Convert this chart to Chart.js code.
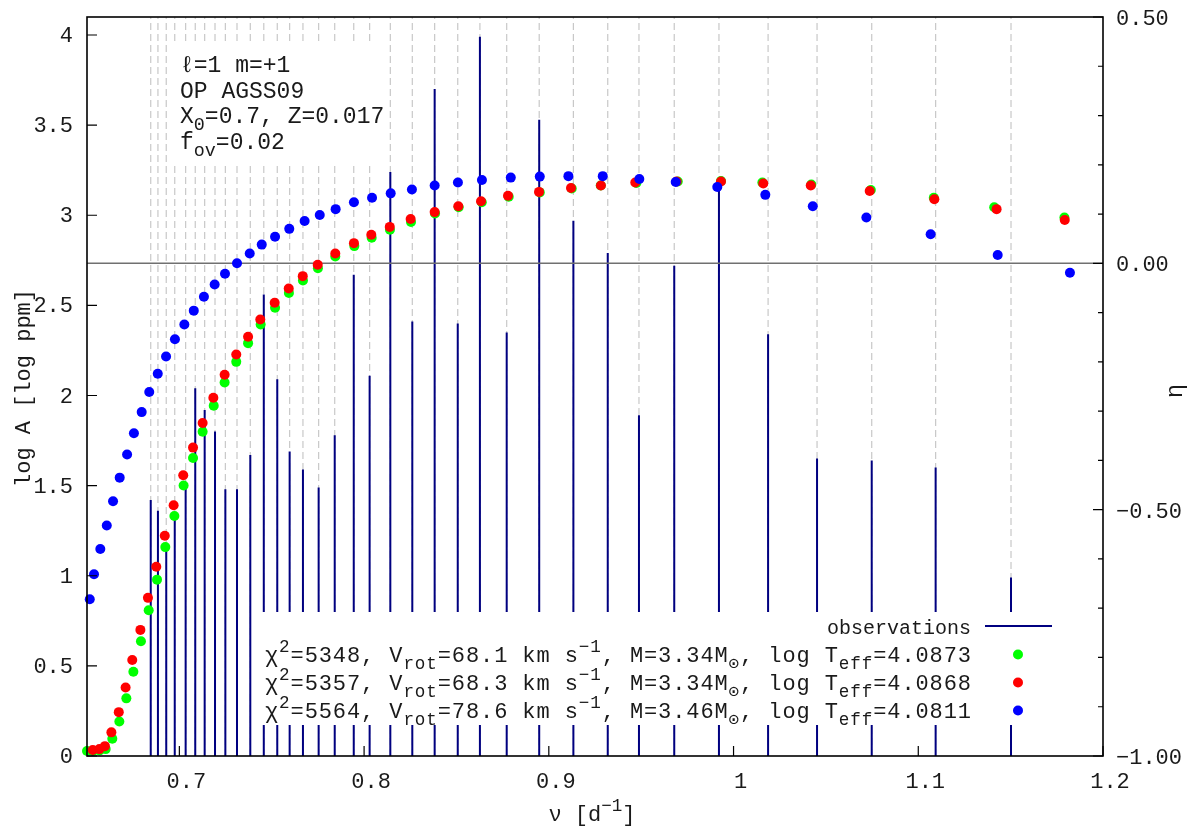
<!DOCTYPE html>
<html>
<head>
<meta charset="utf-8">
<script src="https://cdn.jsdelivr.net/npm/chart.js@4.4.1/dist/chart.umd.min.js"></script>
<style>
  html, body { margin: 0; padding: 0; background: #fff; }
  #wrap { width: 1196px; height: 828px; }
</style>
</head>
<body>
<div id="wrap"><canvas id="chart"></canvas></div>
<script>
// observed frequencies [d^-1] and amplitudes [log ppm]
const obsFreq = [0.6845, 0.6884, 0.6929, 0.6975, 0.7034, 0.7086, 0.7137, 0.7193, 0.7249, 0.7312,
  0.7384, 0.7457, 0.7530, 0.7597, 0.7669, 0.7754, 0.7841, 0.7944, 0.8030, 0.8142,
  0.8261, 0.8382, 0.8507, 0.8627, 0.8772, 0.8948, 0.9133, 0.9319, 0.9488, 0.9679,
  0.9921, 1.0187, 1.0452, 1.0748, 1.1094, 1.1502];
const obsLogA = [1.42, 1.36, 1.15, 1.32, 1.49, 2.04, 1.92, 1.80, 1.48, 1.48,
  1.67, 2.56, 2.09, 1.69, 1.59, 1.49, 1.78, 2.67, 2.11, 3.24,
  2.41, 3.70, 2.40, 3.99, 2.35, 3.53, 2.97, 2.79, 1.89, 2.72,
  3.16, 2.34, 1.65, 1.64, 1.60, 0.99];

// model 1 (green): chi2=5348
const greenFreq = [0.6500, 0.6532, 0.6568, 0.6601, 0.6637, 0.6675, 0.6713, 0.6751, 0.6792, 0.6834,
  0.6879, 0.6924, 0.6973, 0.7023, 0.7074, 0.7126, 0.7186, 0.7245, 0.7308, 0.7372,
  0.7440, 0.7518, 0.7593, 0.7669, 0.7750, 0.7844, 0.7947, 0.8041, 0.8140, 0.8254,
  0.8384, 0.8512, 0.8637, 0.8783, 0.8951, 0.9124, 0.9281, 0.9474, 0.9698, 0.9932,
  1.0156, 1.0421, 1.0743, 1.1084, 1.1411, 1.1791];
const greenEta = [-0.990, -0.990, -0.989, -0.986, -0.965, -0.930, -0.883, -0.829, -0.767, -0.704,
  -0.642, -0.576, -0.513, -0.451, -0.395, -0.342, -0.289, -0.242, -0.200, -0.162,
  -0.124, -0.090, -0.060, -0.035, -0.010, 0.014, 0.035, 0.052, 0.068, 0.084,
  0.101, 0.114, 0.124, 0.135, 0.144, 0.152, 0.158, 0.163, 0.166, 0.167,
  0.164, 0.160, 0.149, 0.133, 0.114, 0.093];

// model 2 (red): chi2=5357
const redFreq = [0.6531, 0.6567, 0.6597, 0.6632, 0.6672, 0.6709, 0.6745, 0.6789, 0.6830, 0.6875,
  0.6921, 0.6969, 0.7021, 0.7074, 0.7126, 0.7184, 0.7245, 0.7308, 0.7372, 0.7438,
  0.7516, 0.7592, 0.7668, 0.7749, 0.7844, 0.7945, 0.8039, 0.8139, 0.8252, 0.8382,
  0.8510, 0.8633, 0.8779, 0.8947, 0.9120, 0.9282, 0.9468, 0.9692, 0.9932, 1.0161,
  1.0418, 1.0737, 1.1087, 1.1424, 1.1793];
const redEta = [-0.988, -0.986, -0.980, -0.952, -0.911, -0.861, -0.805, -0.744, -0.679, -0.616,
  -0.553, -0.491, -0.430, -0.374, -0.324, -0.273, -0.226, -0.185, -0.149, -0.114,
  -0.080, -0.051, -0.026, -0.003, 0.020, 0.041, 0.058, 0.074, 0.090, 0.104,
  0.116, 0.126, 0.137, 0.145, 0.153, 0.158, 0.164, 0.166, 0.166, 0.162,
  0.158, 0.147, 0.130, 0.110, 0.088];

// model 3 (blue): chi2=5564
const blueFreq = [0.6515, 0.6538, 0.6572, 0.6607, 0.6641, 0.6677, 0.6717, 0.6754, 0.6796, 0.6837,
  0.6883, 0.6928, 0.6976, 0.7027, 0.7078, 0.7133, 0.7191, 0.7247, 0.7312, 0.7381,
  0.7446, 0.7518, 0.7595, 0.7678, 0.7760, 0.7846, 0.7945, 0.8043, 0.8144, 0.8259,
  0.8382, 0.8508, 0.8638, 0.8794, 0.8951, 0.9106, 0.9292, 0.9490, 0.9687, 0.9912,
  1.0172, 1.0429, 1.0719, 1.1067, 1.1430, 1.1821];
const blueEta = [-0.682, -0.631, -0.580, -0.532, -0.483, -0.435, -0.388, -0.345, -0.302, -0.261,
  -0.224, -0.189, -0.154, -0.124, -0.096, -0.068, -0.043, -0.021, 0.000, 0.020,
  0.038, 0.054, 0.070, 0.086, 0.098, 0.110, 0.124, 0.133, 0.142, 0.150,
  0.158, 0.164, 0.169, 0.174, 0.176, 0.177, 0.177, 0.171, 0.165, 0.155,
  0.139, 0.116, 0.093, 0.059, 0.017, -0.019];

const xTicks = [0.7, 0.8, 0.9, 1.0, 1.1, 1.2];
const xTickLabels = ["0.7", "0.8", "0.9", "1", "1.1", "1.2"];
const yTicks = [0, 0.5, 1, 1.5, 2, 2.5, 3, 3.5, 4];
const yTickLabels = ["0", "0.5", "1", "1.5", "2", "2.5", "3", "3.5", "4"];
const etaTicks = [-1, -0.5, 0, 0.5];
const etaTickLabels = ["\u22121.00", "\u22120.50", "0.00", "0.50"];
const etaMinorTicks = [-0.9, -0.8, -0.7, -0.6, -0.4, -0.3, -0.2, -0.1, 0.1, 0.2, 0.3, 0.4];

const FONT = '"Liberation Mono", "DejaVu Sans Mono", monospace';
const TEXT = "#1a1a1a";
const DOT = 5;

function toPoints(xs, ys) {
  return xs.map((v, i) => ({ x: v, y: ys[i] }));
}

function sticks(xs, tops) {
  const pts = [];
  xs.forEach((v, i) => {
    pts.push({ x: v, y: 0 }, { x: v, y: tops[i] }, { x: v, y: null });
  });
  return pts;
}

// draw text with sub/superscripts, char by char
function drawRich(ctx, parts, x, y, size, opts = {}) {
  const items = [];
  parts.forEach(([t, k]) => {
    const s = k ? size * 0.8 : size;
    const dy = k === "sub" ? size * 0.32 : k === "sup" ? -size * 0.46 : 0;
    for (const ch of t) items.push({ ch, s, dy });
  });
  ctx.textAlign = "left";
  ctx.textBaseline = "alphabetic";
  let natural = 0;
  items.forEach((it) => {
    ctx.font = it.s + "px " + FONT;
    it.w = ctx.measureText(it.ch).width;
    natural += it.w;
  });
  let sp = opts.spacing || 0;
  if (opts.fitWidth) sp = (opts.fitWidth - natural) / (items.length - 1);
  const total = natural + sp * (items.length - 1);
  let cx = opts.align === "right" ? x - total : opts.align === "center" ? x - total / 2 : x;
  items.forEach((it) => {
    ctx.font = it.s + "px " + FONT;
    ctx.fillText(it.ch, cx, y + it.dy);
    cx += it.w + sp;
  });
}

const gnuFrame = {
  id: "gnuFrame",
  afterDatasetsDraw(chart) {
    const { ctx, chartArea: a } = chart;
    const sx = chart.scales.x, sy = chart.scales.y, sy2 = chart.scales.y2;
    ctx.save();

    // key boxes (opaque)
    ctx.fillStyle = "#fff";
    ctx.fillRect(170, 44, 218, 120);
    ctx.fillRect(257, 612, 805, 113);

    // border
    ctx.strokeStyle = "#000";
    ctx.lineWidth = 1.6;
    ctx.strokeRect(a.left, a.top, a.right - a.left, a.bottom - a.top);

    // inward ticks
    ctx.lineWidth = 1.2;
    ctx.beginPath();
    yTicks.forEach((v) => {
      const p = sy.getPixelForValue(v);
      ctx.moveTo(a.left, p); ctx.lineTo(a.left + 10, p);
    });
    xTicks.forEach((v) => {
      const p = sx.getPixelForValue(v);
      ctx.moveTo(p, a.bottom); ctx.lineTo(p, a.bottom - 10);
    });
    etaTicks.forEach((v) => {
      const p = sy2.getPixelForValue(v);
      ctx.moveTo(a.right, p); ctx.lineTo(a.right - 10, p);
    });
    etaMinorTicks.forEach((v) => {
      const p = sy2.getPixelForValue(v);
      ctx.moveTo(a.right, p); ctx.lineTo(a.right - 5, p);
    });
    ctx.stroke();

    // tick labels
    ctx.fillStyle = TEXT;
    ctx.font = "22px " + FONT;
    ctx.textBaseline = "alphabetic";
    ctx.textAlign = "center";
    xTicks.forEach((v, i) => {
      ctx.fillText(xTickLabels[i], sx.getPixelForValue(v) + 7, 788);
    });
    ctx.textAlign = "right";
    yTicks.forEach((v, i) => {
      ctx.fillText(yTickLabels[i], 73, sy.getPixelForValue(v) + 7);
    });
    ctx.textAlign = "left";
    etaTicks.forEach((v, i) => {
      ctx.fillText(etaTickLabels[i], 1116, sy2.getPixelForValue(v) + 8);
    });

    // axis titles
    ctx.save();
    ctx.translate(24, 388);
    ctx.rotate(-Math.PI / 2);
    ctx.textAlign = "center";
    ctx.textBaseline = "middle";
    ctx.fillText("log A [log ppm]", 0, 0);
    ctx.restore();

    ctx.save();
    ctx.translate(1176, 391);
    ctx.rotate(-Math.PI / 2);
    ctx.textAlign = "center";
    ctx.textBaseline = "middle";
    ctx.font = "24px " + FONT;
    ctx.fillText("\u03b7", 0, 0);
    ctx.restore();

    drawRich(ctx, [["\u03bd [d", ""], ["\u22121", "sup"], ["]", ""]], 592, 821, 22, { align: "center" });

    // model description
    drawRich(ctx, [["\u2113=1 m=+1", ""]], 180, 72, 23);
    drawRich(ctx, [["OP AGSS09", ""]], 180, 98, 23);
    drawRich(ctx, [["X", ""], ["0", "sub"], ["=0.7, Z=0.017", ""]], 180, 123, 23);
    drawRich(ctx, [["f", ""], ["ov", "sub"], ["=0.02", ""]], 180, 149, 23);

    // key
    ctx.font = "20px " + FONT;
    ctx.textAlign = "right";
    ctx.fillText("observations", 971, 634);
    ctx.strokeStyle = "#000080";
    ctx.lineWidth = 2;
    ctx.beginPath();
    ctx.moveTo(985, 626); ctx.lineTo(1052, 626);
    ctx.stroke();

    const keyRows = [
      ["5348", "68.1", "3.34", "4.0873", "#00ff00", 662],
      ["5357", "68.3", "3.34", "4.0868", "#ff0000", 690],
      ["5564", "78.6", "3.46", "4.0811", "#0000ff", 718],
    ];
    keyRows.forEach(([chi, v, m, t, col, base]) => {
      ctx.fillStyle = TEXT;
      drawRich(ctx, [
        ["\u03c7", ""], ["2", "sup"], ["=" + chi + ", V", ""], ["rot", "sub"],
        ["=" + v + " km s", ""], ["\u22121", "sup"], [", M=" + m + "M", ""], ["\u2299", "sub"],
        [", log T", ""], ["eff", "sub"], ["=" + t, ""],
      ], 971, base, 22, { align: "right", fitWidth: 706 });
      ctx.fillStyle = col;
      ctx.beginPath();
      ctx.arc(1018, base - 7.5, DOT, 0, Math.PI * 2);
      ctx.fill();
    });

    ctx.restore();
  },
};

new Chart(document.getElementById("chart"), {
  type: "scatter",
  data: {
    datasets: [
      {
        label: "model 3",
        data: toPoints(blueFreq, blueEta),
        yAxisID: "y2",
        backgroundColor: "#0000ff",
        borderWidth: 0,
        pointRadius: DOT,
        clip: false,
      },
      {
        label: "model 2",
        data: toPoints(redFreq, redEta),
        yAxisID: "y2",
        backgroundColor: "#ff0000",
        borderWidth: 0,
        pointRadius: DOT,
        clip: false,
      },
      {
        label: "model 1",
        data: toPoints(greenFreq, greenEta),
        yAxisID: "y2",
        backgroundColor: "#00ff00",
        borderWidth: 0,
        pointRadius: DOT,
        clip: false,
      },
      {
        type: "line",
        label: "eta zero",
        data: [{ x: 0.65, y: 0 }, { x: 1.2, y: 0 }],
        yAxisID: "y2",
        borderColor: "#707070",
        borderWidth: 1.5,
        pointRadius: 0,
        showLine: true,
      },
      {
        type: "line",
        label: "observations",
        data: sticks(obsFreq, obsLogA),
        yAxisID: "y",
        borderColor: "#000080",
        borderWidth: 2,
        pointRadius: 0,
        showLine: true,
        spanGaps: false,
      },
      {
        type: "line",
        label: "frequency marks",
        data: sticks(obsFreq, obsFreq.map(() => 4.1)),
        yAxisID: "y",
        borderColor: "#c8c8c8",
        borderWidth: 1.2,
        borderDash: [7, 4],
        pointRadius: 0,
        showLine: true,
        spanGaps: false,
      },
    ],
  },
  options: {
    responsive: true,
    maintainAspectRatio: false,
    devicePixelRatio: 1,
    animation: false,
    events: [],
    layout: { padding: { top: 17, left: 0, right: 0, bottom: 0 } },
    plugins: { legend: { display: false }, tooltip: { enabled: false } },
    scales: {
      x: {
        type: "linear",
        min: 0.65,
        max: 1.2,
        grid: { display: false },
        border: { display: false },
        ticks: { display: false },
        afterFit(s) { s.height = 72; },
      },
      y: {
        type: "linear",
        position: "left",
        min: 0,
        max: 4.1,
        grid: { display: false },
        border: { display: false },
        ticks: { display: false },
        afterFit(s) { s.width = 87; },
      },
      y2: {
        type: "linear",
        position: "right",
        min: -1,
        max: 0.5,
        grid: { display: false },
        border: { display: false },
        ticks: { display: false },
        afterFit(s) { s.width = 93; },
      },
    },
  },
  plugins: [gnuFrame],
});
</script>
</body>
</html>
